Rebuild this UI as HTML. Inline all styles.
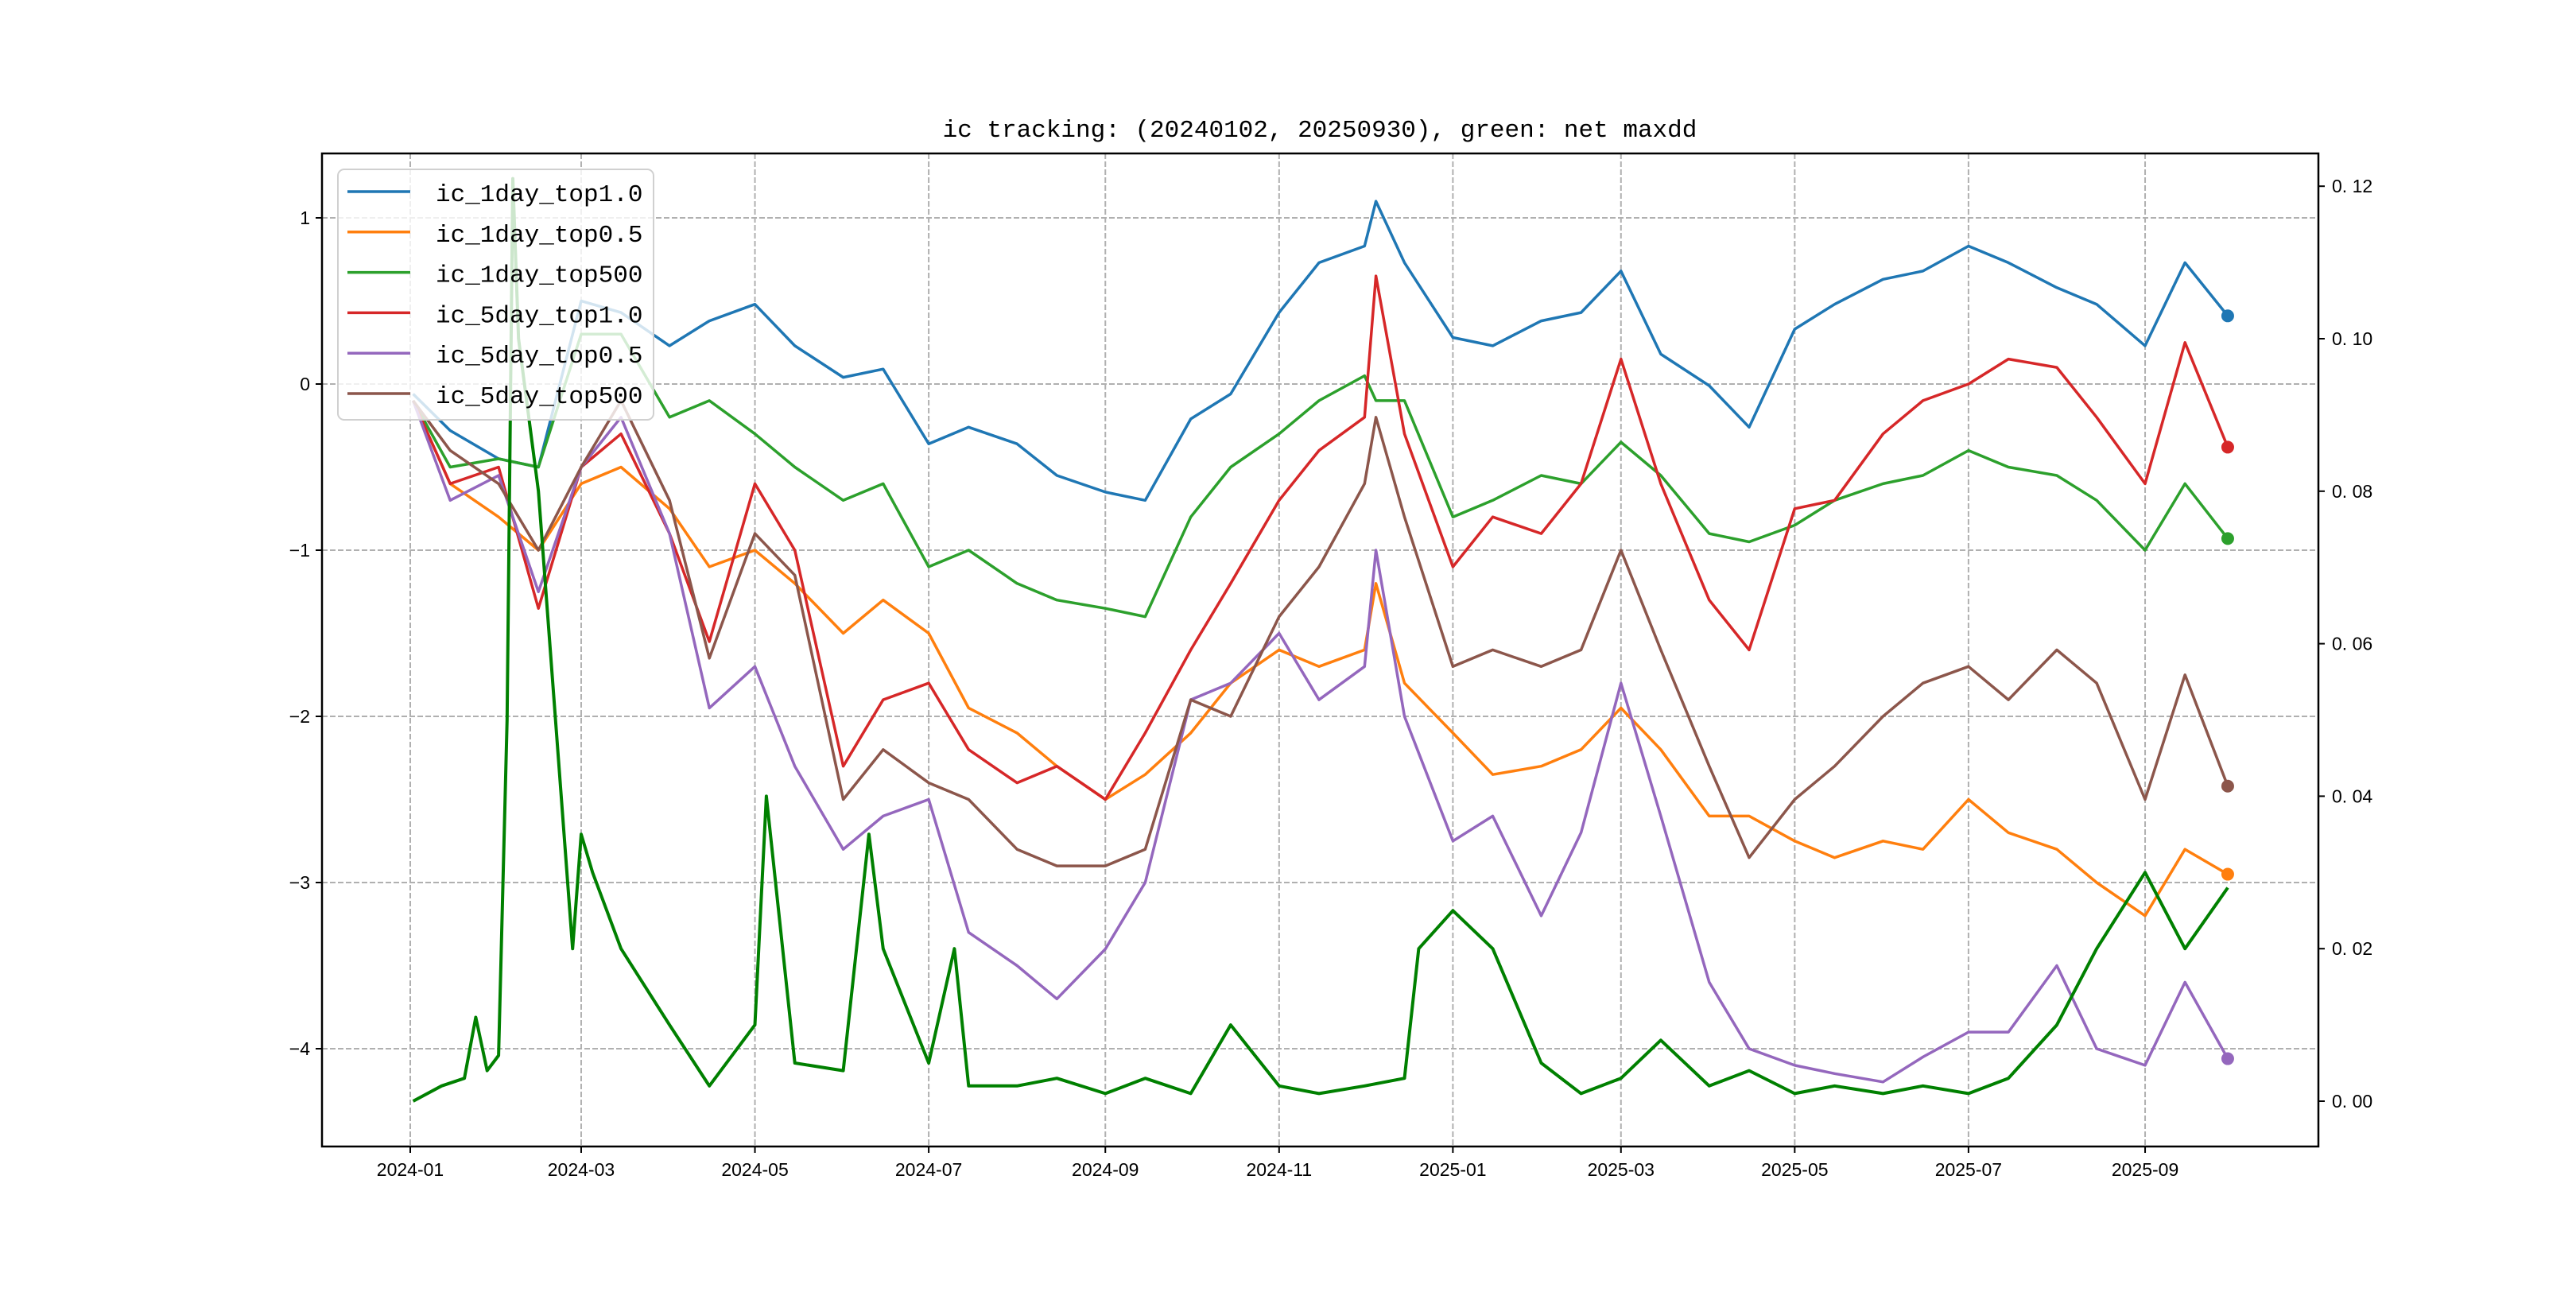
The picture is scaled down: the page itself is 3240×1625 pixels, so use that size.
<!DOCTYPE html>
<html><head><meta charset="utf-8"><style>
html,body{margin:0;padding:0;background:#fff}
</style></head><body>
<svg id="chart" width="3240" height="1620" xmlns="http://www.w3.org/2000/svg" font-family="'Liberation Sans','WenQuanYi Zen Hei',sans-serif">
<rect width="3240" height="1620" fill="#fff"/>
<text x="1660" y="172" font-size="31" text-anchor="middle" style="font-family:'Liberation Mono','WenQuanYi Zen Hei',monospace">ic tracking: (20240102, 20250930), green: net maxdd</text>
<g id="grid"></g>
<g id="series"></g>
<g id="axes"></g>
<g id="legend"></g>
</svg>
<script>
const dates = ["2024-01-02","2024-01-15","2024-02-01","2024-02-15","2024-03-01","2024-03-15","2024-04-01","2024-04-15","2024-05-01","2024-05-15","2024-06-01","2024-06-15","2024-07-01","2024-07-15","2024-08-01","2024-08-15","2024-09-01","2024-09-15","2024-10-01","2024-10-15","2024-11-01","2024-11-15","2024-12-01","2024-12-05","2024-12-15","2025-01-01","2025-01-15","2025-02-01","2025-02-15","2025-03-01","2025-03-15","2025-04-01","2025-04-15","2025-05-01","2025-05-15","2025-06-01","2025-06-15","2025-07-01","2025-07-15","2025-08-01","2025-08-15","2025-09-01","2025-09-15","2025-09-30"];
const ic1dTop10 = [-0.06,-0.28,-0.45,-0.5,0.5,0.43,0.23,0.38,0.48,0.23,0.04,0.09,-0.36,-0.26,-0.36,-0.55,-0.65,-0.7,-0.21,-0.06,0.43,0.73,0.83,1.1,0.73,0.28,0.23,0.38,0.43,0.68,0.18,-0.01,-0.26,0.33,0.48,0.63,0.68,0.83,0.73,0.58,0.48,0.23,0.73,0.41];
const ic1dTop05 = [-0.1,-0.6,-0.8,-1.0,-0.6,-0.5,-0.75,-1.1,-1.0,-1.2,-1.5,-1.3,-1.5,-1.95,-2.1,-2.3,-2.5,-2.35,-2.1,-1.8,-1.6,-1.7,-1.6,-1.2,-1.8,-2.1,-2.35,-2.3,-2.2,-1.95,-2.2,-2.6,-2.6,-2.75,-2.85,-2.75,-2.8,-2.5,-2.7,-2.8,-3.0,-3.2,-2.8,-2.95];
const ic1dTop500 = [-0.1,-0.5,-0.45,-0.5,0.3,0.3,-0.2,-0.1,-0.3,-0.5,-0.7,-0.6,-1.1,-1.0,-1.2,-1.3,-1.35,-1.4,-0.8,-0.5,-0.3,-0.1,0.05,-0.1,-0.1,-0.8,-0.7,-0.55,-0.6,-0.35,-0.55,-0.9,-0.95,-0.85,-0.7,-0.6,-0.55,-0.4,-0.5,-0.55,-0.7,-1.0,-0.6,-0.93];
const ic5dTop10 = [-0.1,-0.6,-0.5,-1.35,-0.5,-0.3,-0.9,-1.55,-0.6,-1.0,-2.3,-1.9,-1.8,-2.2,-2.4,-2.3,-2.5,-2.1,-1.6,-1.2,-0.7,-0.4,-0.2,0.65,-0.3,-1.1,-0.8,-0.9,-0.6,0.15,-0.6,-1.3,-1.6,-0.75,-0.7,-0.3,-0.1,0.0,0.15,0.1,-0.2,-0.6,0.25,-0.38];
const ic5dTop05 = [-0.1,-0.7,-0.55,-1.25,-0.5,-0.2,-0.9,-1.95,-1.7,-2.3,-2.8,-2.6,-2.5,-3.3,-3.5,-3.7,-3.4,-3.0,-1.9,-1.8,-1.5,-1.9,-1.7,-1.0,-2.0,-2.75,-2.6,-3.2,-2.7,-1.8,-2.6,-3.6,-4.0,-4.1,-4.15,-4.2,-4.05,-3.9,-3.9,-3.5,-4.0,-4.1,-3.6,-4.06];
const ic5dTop500 = [-0.1,-0.4,-0.6,-1.0,-0.5,-0.1,-0.7,-1.65,-0.9,-1.15,-2.5,-2.2,-2.4,-2.5,-2.8,-2.9,-2.9,-2.8,-1.9,-2.0,-1.4,-1.1,-0.6,-0.2,-0.8,-1.7,-1.6,-1.7,-1.6,-1.0,-1.6,-2.3,-2.85,-2.5,-2.3,-2.0,-1.8,-1.7,-1.9,-1.6,-1.8,-2.5,-1.75,-2.42];
const ddDates = ["2024-01-02","2024-01-12","2024-01-20","2024-01-24","2024-01-28","2024-02-01","2024-02-04","2024-02-06","2024-02-08","2024-02-15","2024-02-22","2024-02-27","2024-03-01","2024-03-05","2024-03-15","2024-04-01","2024-04-15","2024-05-01","2024-05-05","2024-05-15","2024-06-01","2024-06-10","2024-06-15","2024-07-01","2024-07-10","2024-07-15","2024-08-01","2024-08-15","2024-09-01","2024-09-15","2024-10-01","2024-10-15","2024-11-01","2024-11-15","2024-12-01","2024-12-15","2024-12-20","2025-01-01","2025-01-15","2025-02-01","2025-02-15","2025-03-01","2025-03-15","2025-04-01","2025-04-15","2025-05-01","2025-05-15","2025-06-01","2025-06-15","2025-07-01","2025-07-15","2025-08-01","2025-08-15","2025-09-01","2025-09-15","2025-09-30"];
const netMaxdd = [0,0.002,0.003,0.011,0.004,0.006,0.05,0.121,0.1,0.08,0.045,0.02,0.035,0.03,0.02,0.01,0.002,0.01,0.04,0.005,0.004,0.035,0.02,0.005,0.02,0.002,0.002,0.003,0.001,0.003,0.001,0.01,0.002,0.001,0.002,0.003,0.02,0.025,0.02,0.005,0.001,0.003,0.008,0.002,0.004,0.001,0.002,0.001,0.002,0.001,0.003,0.01,0.02,0.03,0.02,0.028];
const leftTicks = [-4,-3,-2,-1,0,1];
const rightTicks = [0,0.02,0.04,0.06,0.08,0.10,0.12];
const xTicks = ["2024-01","2024-03","2024-05","2024-07","2024-09","2024-11","2025-01","2025-03","2025-05","2025-07","2025-09"];
const seriesNames = ["ic_1day_top1.0","ic_1day_top0.5","ic_1day_top500","ic_5day_top1.0","ic_5day_top0.5","ic_5day_top500"];

const L=405,R=2916,T=193,B=1442;
const NS="http://www.w3.org/2000/svg";
const d0=Date.UTC(2024,0,1);
function dayOf(s){const p=s.split("-").map(Number);return (Date.UTC(p[0],p[1]-1,p[2]||1)-d0)/86400000;}
function xS(s){return 516+dayOf(s)*3.583;}
function yL(v){return 483-v*209;}
function yR(v){return 1385-v*9590;}
function mk(tag,attrs,parent){const e=document.createElementNS(NS,tag);for(const k in attrs)e.setAttribute(k,attrs[k]);parent.appendChild(e);return e;}
const grid=document.getElementById('grid'),ser=document.getElementById('series'),ax=document.getElementById('axes'),leg=document.getElementById('legend');

xTicks.forEach(t=>{const x=xS(t+"-01");
 const g=mk('line',{x1:x,x2:x,y1:T,y2:B,stroke:'#b0b0b0','stroke-width':2,'stroke-dasharray':'7,3'},grid);
 
 
 const tk=mk('line',{x1:x,x2:x,y1:B,y2:B+8,stroke:'#000','stroke-width':2},ax);
 
 
 const tx=mk('text',{x:x,y:B+37,'font-size':23,'text-anchor':'middle'},ax);tx.textContent=t;
 
 
});
leftTicks.forEach(v=>{const y=yL(v);
 const g=mk('line',{x1:L,x2:R,y1:y,y2:y,stroke:'#b0b0b0','stroke-width':2,'stroke-dasharray':'7,3'},grid);
 
 
 const tk=mk('line',{x1:L-8,x2:L,y1:y,y2:y,stroke:'#000','stroke-width':2},ax);
 
 
 const tx=mk('text',{x:L-15,y:y+8,'font-size':23,'text-anchor':'end'},ax);tx.textContent=v<0?'\u2212'+Math.abs(v):String(v);
 
 
});
rightTicks.forEach(v=>{const y=yR(v);
 const tk=mk('line',{x1:R,x2:R+8,y1:y,y2:y,stroke:'#000','stroke-width':2},ax);
 
 
 const tx=mk('text',{x:R+17,y:y+8,'font-size':23},ax);tx.textContent=v.toFixed(2).replace('.','. ');
 
 
});
const fr=mk('rect',{x:L,y:T,width:R-L,height:B-T,fill:'none',stroke:'#000','stroke-width':2.5},ax);



const cols=['#1f77b4','#ff7f0e','#2ca02c','#d62728','#9467bd','#8c564b'];
const vals=[ic1dTop10,ic1dTop05,ic1dTop500,ic5dTop10,ic5dTop05,ic5dTop500];
const sn=['line-ic-1day-top1-0','line-ic-1day-top0-5','line-ic-1day-top500','line-ic-5day-top1-0','line-ic-5day-top0-5','line-ic-5day-top500'];
vals.forEach((arr,i)=>{
 const pts=arr.map((v,j)=>xS(dates[j]).toFixed(1)+','+yL(v).toFixed(1)).join(' ');
 const p=mk('polyline',{points:pts,fill:'none',stroke:cols[i],'stroke-width':3.5,'stroke-linejoin':'round'},ser);
 
 
 const last=arr.length-1;
 const c=mk('circle',{cx:xS(dates[last]),cy:yL(arr[last]),r:8,fill:cols[i]},ser);
 
 
});
const ddp=netMaxdd.map((v,j)=>xS(ddDates[j]).toFixed(1)+','+yR(v).toFixed(1)).join(' ');
const dl=mk('polyline',{points:ddp,fill:'none',stroke:'#008000','stroke-width':4,'stroke-linejoin':'round'},ser);



const lb=mk('rect',{x:425,y:213,width:397,height:315,rx:8,fill:'rgba(255,255,255,0.8)',stroke:'#d0d0d0','stroke-width':2},leg);


seriesNames.forEach((n,i)=>{const y=241+i*50.8;
 const l=mk('line',{x1:437,x2:516,y1:y,y2:y,stroke:cols[i],'stroke-width':3.5},leg);
 
 
 const t=mk('text',{x:548,y:y+12,'font-size':31,style:"font-family:'Liberation Mono',monospace"},leg);t.textContent=n;
 
 
});
</script>
</body></html>
